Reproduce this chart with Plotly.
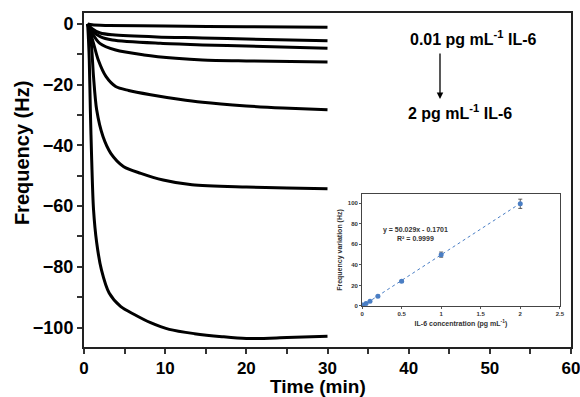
import plotly.graph_objects as go

# ---------------- Main chart data (time in min, frequency shift in Hz) ----------------
t1 = [0.45, 1, 3, 10, 20, 30]
f1 = [0, -0.3, -0.5, -0.7, -0.9, -1.1]

t2 = [0.45, 1, 2, 3.5, 9, 14.6, 20, 30]
f2 = [0, -1.6, -3.0, -3.6, -4.3, -4.6, -5.0, -5.5]

t3 = [0.45, 1, 2, 3.5, 9.4, 14.6, 20, 30]
f3 = [0, -2.2, -4.2, -5.3, -6.4, -6.9, -7.3, -8.0]

t4 = [0.45, 1, 1.95, 3.9, 7.4, 11.3, 14.6, 20, 30]
f4 = [0, -3.0, -6.4, -8.6, -10.2, -11.3, -11.9, -12.2, -12.5]

t5 = [0.45, 0.8, 1.17, 1.76, 2.7, 3.9, 5.5, 8.2, 11.7, 14.6, 20, 24.5, 30]
f5 = [0, -3, -6.4, -11.9, -17.3, -20.6, -21.9, -23.3, -24.8, -25.8, -27.0, -27.7, -28.3]

t6 = [0.45, 0.7, 0.9, 1.17, 1.56, 2.34, 3.3, 4.9, 7, 9.75, 13.3, 20, 25, 30]
f6 = [0, -3, -6.4, -17.3, -28.3, -37.1, -42.6, -47, -49.2, -51.4, -53.0, -53.7, -54.0, -54.3]

t7 = [0.45, 0.55, 0.65, 0.78, 0.95, 1.17, 1.56, 2.15, 3.1, 4.5, 6.2, 8.2, 10.5, 13.6, 17, 20, 25, 30]
f7 = [0, -5, -12, -28, -45, -61, -72, -81, -88.6, -93, -95.7, -98.4, -100.6, -102, -103, -103.6, -103.3, -102.9]

main_times = [t1, t2, t3, t4, t5, t6, t7]
main_freqs = [f1, f2, f3, f4, f5, f6, f7]

x_ticks = [0, 10, 20, 30, 40, 50, 60]
y_ticks = [0, -20, -40, -60, -80, -100]

# ---------------- Inset calibration data ----------------
conc = [0.01, 0.05, 0.1, 0.2, 0.5, 1.0, 2.0]
freq_var = [1.0, 2.5, 4.5, 9.5, 24.0, 50.0, 99.5]
freq_err = [0.8, 0.8, 0.8, 0.8, 1.0, 2.5, 4.5]
slope = 50.029
intercept = -0.1701
trend_x = [0, 2.0]
inset_x_ticks = [0, 0.5, 1, 1.5, 2, 2.5]
inset_x_labels = ["0", "0.5", "1", "1.5", "2", "2.5"]
inset_y_ticks = [0, 20, 40, 60, 80, 100]

FONT = "Arial, Liberation Sans, sans-serif"
BLUE = "#4a7ec4"

fig = go.Figure()

for tt, ff in zip(main_times, main_freqs):
    fig.add_trace(go.Scatter(
        x=tt, y=ff, mode="lines",
        line=dict(color="black", width=3, shape="spline", smoothing=0.8),
        showlegend=False, hoverinfo="skip", xaxis="x", yaxis="y"))

# inset trendline
fig.add_trace(go.Scatter(
    x=trend_x, y=[slope * v + intercept for v in trend_x], mode="lines",
    line=dict(color=BLUE, width=1, dash="dot"),
    showlegend=False, xaxis="x2", yaxis="y2"))
# inset points
fig.add_trace(go.Scatter(
    x=conc, y=freq_var, mode="markers",
    marker=dict(color=BLUE, size=5),
    error_y=dict(type="data", array=freq_err, color="#333333", thickness=0.8, width=2),
    showlegend=False, xaxis="x2", yaxis="y2"))

fig.update_layout(
    width=580, height=397,
    margin=dict(l=84, r=9, t=13, b=50, autoexpand=False),
    paper_bgcolor="white", plot_bgcolor="white",
    font=dict(family=FONT, color="black"),
    xaxis=dict(
        range=[0, 60], tickvals=x_ticks, ticks="outside", ticklen=5, tickwidth=1.5,
        tickcolor="#333333", automargin=False, ticklabeloverflow="allow",
        minor=dict(dtick=5, tick0=0, ticks="outside", ticklen=5, tickwidth=1.5, tickcolor="#333333"),
        showline=True, linecolor="#222222", linewidth=2, mirror=True,
        showgrid=False, zeroline=False,
        tickfont=dict(size=17, family=FONT, weight="bold"),
    ),
    yaxis=dict(
        range=[-106.4, 3.6], tickvals=y_ticks, ticks="outside", ticklen=5, tickwidth=1.5,
        tickcolor="#333333", automargin=False,
        minor=dict(dtick=10, tick0=0, ticks="outside", ticklen=5, tickwidth=1.5, tickcolor="#333333"),
        showline=True, linecolor="#222222", linewidth=2, mirror=True,
        showgrid=False, zeroline=False,
        tickfont=dict(size=18, family=FONT, weight="bold"),
    ),
    xaxis2=dict(
        domain=[0.571, 0.977], anchor="y2", range=[0, 2.5], automargin=False,
        tickvals=inset_x_ticks, ticktext=inset_x_labels, ticks="outside", ticklen=2,
        tickcolor="#555555",
        showline=True, linecolor="#444444", linewidth=1, mirror=True,
        showgrid=False, zeroline=False,
        tickfont=dict(size=6, family=FONT, weight="bold", color="#333333"),
        title=dict(text="IL-6 concentration (pg mL<sup>-1</sup>)",
                   font=dict(size=7, family=FONT, weight="bold", color="#333333"), standoff=4),
    ),
    yaxis2=dict(
        domain=[0.1228, 0.458], anchor="x2", range=[0, 109], automargin=False,
        tickvals=inset_y_ticks, ticks="outside", ticklen=2, tickcolor="#555555",
        showline=True, linecolor="#444444", linewidth=1, mirror=True,
        showgrid=False, zeroline=False,
        tickfont=dict(size=6, family=FONT, weight="bold", color="#333333"),
        title=dict(text="Frequency variation (Hz)",
                   font=dict(size=7, family=FONT, weight="bold", color="#333333"), standoff=4),
    ),
    annotations=[
        dict(text="Time (min)", x=0.4805, y=-0.119, xref="paper", yref="paper",
             showarrow=False, xanchor="center", yanchor="middle",
             font=dict(size=19, family=FONT, weight="bold")),
        dict(text="Frequency (Hz)", x=-0.127, y=0.581, xref="paper", yref="paper",
             showarrow=False, xanchor="center", yanchor="middle", textangle=-90,
             font=dict(size=20, family=FONT, weight="bold")),
        dict(text="0.01 pg mL<sup>-1</sup> IL-6", x=0.799, y=0.924, xref="paper", yref="paper",
             showarrow=False, xanchor="center", yanchor="middle",
             font=dict(size=16, family=FONT, weight="bold")),
        dict(text="2 pg mL<sup>-1</sup> IL-6", x=0.772, y=0.7036, xref="paper", yref="paper",
             showarrow=False, xanchor="center", yanchor="middle",
             font=dict(size=16, family=FONT, weight="bold")),
        dict(text="", x=0.731, y=0.7425, xref="paper", yref="paper",
             showarrow=True, ax=0, ay=-47, arrowhead=2, arrowsize=1, arrowwidth=1.3,
             arrowcolor="black"),
        dict(text="y = 50.029x - 0.1701<br>R² = 0.9999", x=0.68, y=70, xref="x2", yref="y2",
             showarrow=False, xanchor="center", yanchor="middle", align="center",
             font=dict(size=7, family=FONT, weight="bold", color="#333333")),
    ],
)

fig.write_html("out.html", config={"displayModeBar": False},
               post_script="document.body.style.margin='0';")
